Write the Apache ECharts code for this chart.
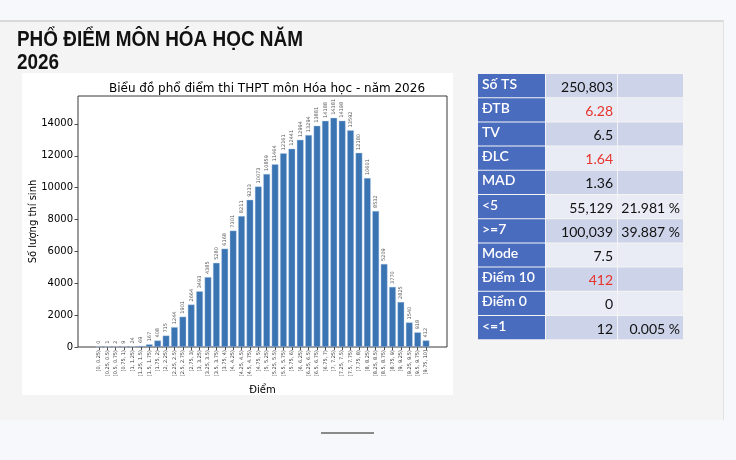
<!DOCTYPE html>
<html><head><meta charset="utf-8">
<script src="https://cdn.jsdelivr.net/npm/echarts@6/dist/echarts.min.js"></script>
<style>html,body{margin:0;padding:0;background:#f7f8fb;}#c{width:736px;height:460px;}</style>
</head><body><div id="c"></div>
<script>
const categories = ["[0, 0.25)","[0.25, 0.5)","[0.5, 0.75)","[0.75, 1)","[1, 1.25)","[1.25, 1.5)","[1.5, 1.75)","[1.75, 2)","[2, 2.25)","[2.25, 2.5)","[2.5, 2.75)","[2.75, 3)","[3, 3.25)","[3.25, 3.5)","[3.5, 3.75)","[3.75, 4)","[4, 4.25)","[4.25, 4.5)","[4.5, 4.75)","[4.75, 5)","[5, 5.25)","[5.25, 5.5)","[5.5, 5.75)","[5.75, 6)","[6, 6.25)","[6.25, 6.5)","[6.5, 6.75)","[6.75, 7)","[7, 7.25)","[7.25, 7.5)","[7.5, 7.75)","[7.75, 8)","[8, 8.25)","[8.25, 8.5)","[8.5, 8.75)","[8.75, 9)","[9, 9.25)","[9.25, 9.5)","[9.5, 9.75)","[9.75, 10]"];
const counts = [0,1,2,9,24,69,167,408,715,1244,1901,2664,3493,4385,5280,6168,7301,8211,9233,10073,10859,11464,12161,12441,12994,13294,13881,14188,14381,14198,13592,12180,10601,8532,5209,3770,2825,1540,918,412];
const yTicks = [0,2000,4000,6000,8000,10000,12000,14000];
const tableLabels = ["Số TS","ĐTB","TV","ĐLC","MAD","<5",">=7","Mode","Điểm 10","Điểm 0","<=1"];
const tableValues = ["250,803","6.28","6.5","1.64","1.36","55,129","100,039","7.5","412","0","12"];
const tablePcts = ["","","","","","21.981 %","39.887 %","","","","0.005 %"];
const redRows = ["ĐTB","ĐLC","Điểm 10"];
const pageTitle = "PHỔ ĐIỂM MÔN HÓA HỌC NĂM\n2026";
const chartTitle = "Biểu đồ phổ điểm thi THPT môn Hóa học - năm 2026";

const PAD = 2;
const cats = [];
const vals = [];
for (let i = 0; i < PAD; i++) { cats.push(''); vals.push('-'); }
categories.forEach((c, i) => { cats.push(c); vals.push(counts[i]); });
for (let i = 0; i < PAD; i++) { cats.push(''); vals.push('-'); }
const isReal = (idx) => idx >= PAD && idx < PAD + categories.length;

const graphics = [
  {type:'rect', shape:{x:0,y:20,width:724,height:400}, style:{fill:'#f4f4f4'}, z:-10},
  {type:'rect', shape:{x:0,y:20,width:724,height:2}, style:{fill:'#d9d9d9'}, z:-9},
  {type:'rect', shape:{x:723,y:20,width:1,height:400}, style:{fill:'#e2e2e2'}, z:-9},
  {type:'rect', shape:{x:22,y:73,width:431,height:322}, style:{fill:'#ffffff'}, z:-8},
  {type:'rect', shape:{x:321,y:432,width:53,height:2}, style:{fill:'#8a8a8a'}, z:-8},
  {type:'text', x:17, y:28, scaleX:0.86, scaleY:1.04, style:{text:pageTitle, fontFamily:'"Liberation Sans","Arial",sans-serif', fontWeight:'bold', fontSize:22, lineHeight:22, fill:'#111'}}
];
const tx = [478, 546, 618, 683];
const ty0 = 74, rh = 24.2;
tableLabels.forEach((lab, r) => {
  const y = ty0 + r * rh;
  const dark = r % 2 === 0;
  graphics.push({type:'rect', shape:{x:tx[0], y:y, width:tx[1]-tx[0]-1, height:rh-1}, style:{fill:'#4a6cbf'}, z:1});
  graphics.push({type:'rect', shape:{x:tx[1], y:y, width:tx[2]-tx[1]-1, height:rh-1}, style:{fill: dark ? '#cdd3e9' : '#e9ebf5'}, z:1});
  graphics.push({type:'rect', shape:{x:tx[2], y:y, width:tx[3]-tx[2], height:rh-1}, style:{fill: dark ? '#cdd3e9' : '#e9ebf5'}, z:1});
  graphics.push({type:'text', x:tx[0]+4, y:y+rh/2-2, z:2, style:{text:lab, fontFamily:'Lato', fontSize:14, fontWeight:600, fill:'#ffffff', verticalAlign:'middle', align:'left'}});
  graphics.push({type:'text', x:tx[2]-5, y:y+rh/2+1, z:2, style:{text:tableValues[r], fontFamily:'Lato', fontSize:14, fill: redRows.includes(lab) ? '#e8342c' : '#111', verticalAlign:'middle', align:'right'}});
  if (tablePcts[r]) graphics.push({type:'text', x:tx[3]-3, y:y+rh/2+1, z:2, style:{text:tablePcts[r], fontFamily:'Lato', fontSize:14, fill:'#111', verticalAlign:'middle', align:'right'}});
});

const chart = echarts.init(document.getElementById('c'), null, {renderer:'canvas'});
chart.setOption({
  animation:false,
  backgroundColor:'transparent',
  title:{text:chartTitle, left:262, top:78, textAlign:'center', textStyle:{fontFamily:'DejaVu Sans', fontSize:12, fontWeight:'normal', color:'#000'}},
  grid:{left:78, right:289, top:96, bottom:113, show:true, borderColor:'#222', borderWidth:0.9, backgroundColor:'#fff'},
  graphic:graphics,
  xAxis:{type:'category', data:cats, boundaryGap:true,
    name:'Điểm', nameLocation:'middle', nameGap:38, nameMoveOverlap:false, nameTextStyle:{fontFamily:'DejaVu Sans', fontSize:10, color:'#000'},
    axisLine:{show:false}, 
    axisTick:{show:true, alignWithLabel:true, length:3, lineStyle:{color:'#222', width:0.8}, interval:(i)=>isReal(i)},
    axisLabel:{interval:(i)=>isReal(i), rotate:90, fontFamily:'DejaVu Sans', fontSize:5, color:'#333', margin:3}},
  yAxis:{type:'value', min:0, max:15750,
    name:'Số lượng thí sinh', nameLocation:'middle', nameGap:40, nameMoveOverlap:false, nameTextStyle:{fontFamily:'DejaVu Sans', fontSize:10, color:'#000'},
    axisLine:{show:false}, splitLine:{show:false},
    axisTick:{show:true, length:3.5, lineStyle:{color:'#222', width:0.8}, customValues: yTicks},
    axisLabel:{fontFamily:'DejaVu Sans', fontSize:10, color:'#000', margin:5,
      customValues: yTicks, formatter:(v)=>String(v)}},
  series:[{type:'bar', data:vals, barCategoryGap:'20%',
    itemStyle:{color:'#3a74b2', borderColor:'#b9d0e8', borderWidth:0.4},
    label:{show:true, position:'top', rotate:90, align:'left', verticalAlign:'middle', distance:3, fontFamily:'DejaVu Sans', fontSize:5, color:'#555'}}]
});
</script></body></html>
